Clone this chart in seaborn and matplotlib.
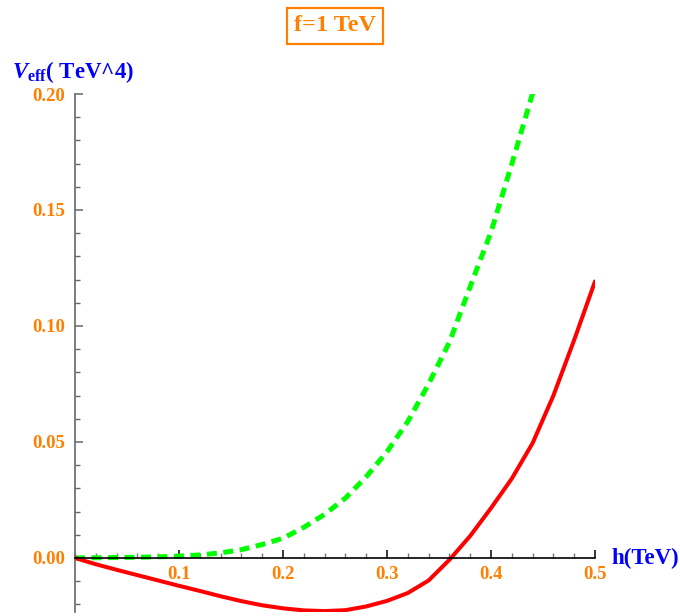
import numpy as np
import pandas as pd
import seaborn as sns
import matplotlib.pyplot as plt
from matplotlib.ticker import FixedLocator, MultipleLocator, FormatStrFormatter

# values
h_red = [0, 0.02, 0.04, 0.06, 0.08, 0.10, 0.12, 0.14, 0.16, 0.18, 0.20, 0.22,
         0.24, 0.26, 0.28, 0.30, 0.32, 0.34, 0.36, 0.38, 0.40, 0.42, 0.44,
         0.46, 0.48, 0.50]
v_red = [0, -0.0027, -0.0051, -0.0074, -0.0097, -0.0120, -0.0142, -0.0165,
         -0.0186, -0.0204, -0.0217, -0.0226, -0.0229, -0.0225, -0.0209,
         -0.0185, -0.0151, -0.0097, -0.0008, 0.0095, 0.0215, 0.0342, 0.0495,
         0.0700, 0.0940, 0.1192]

h_green = [0, 0.02, 0.04, 0.06, 0.08, 0.10, 0.12, 0.14, 0.16, 0.18, 0.20,
           0.22, 0.24, 0.26, 0.28, 0.30, 0.32, 0.34, 0.36, 0.38, 0.40, 0.42,
           0.44]
v_green = [0, 0.0001, 0.0002, 0.0003, 0.0005, 0.0008, 0.0013, 0.0022, 0.0036,
           0.0058, 0.0085, 0.0132, 0.0188, 0.0258, 0.0350, 0.0458, 0.0588,
           0.0750, 0.0930, 0.1170, 0.1405, 0.1698, 0.2003]

x_ticks = [0.1, 0.2, 0.3, 0.4, 0.5]
y_ticks = [0.0, 0.05, 0.10, 0.15, 0.20]

orange = "#FF8000"
blue = "#0000FF"

sns.set_style("white")
plt.rcParams["font.family"] = ["Liberation Serif", "DejaVu Serif"]
plt.rcParams["mathtext.fontset"] = "custom"
plt.rcParams["mathtext.it"] = "Liberation Serif:italic:bold"
plt.rcParams["mathtext.bf"] = "Liberation Serif:bold"
plt.rcParams["mathtext.rm"] = "Liberation Serif:bold"

fig = plt.figure(figsize=(6.8, 6.16), dpi=100)
ax = fig.add_axes([0.1103, 0.0057, 0.7647, 0.8417])

df_red = pd.DataFrame({"h": h_red, "V": v_red})
df_green = pd.DataFrame({"h": h_green, "V": v_green})

sns.lineplot(data=df_green, x="h", y="V", ax=ax, color="#00FF00", lw=3.6,
             ls=(0, (2.0, 1.3)))
sns.lineplot(data=df_red, x="h", y="V", ax=ax, color="#FF0000", lw=2.9)

ax.set_xlim(0, 0.5)
ax.set_ylim(-0.0235, 0.2)

# axes crossing at the origin
ax.spines["top"].set_visible(False)
ax.spines["right"].set_visible(False)
ax.spines["left"].set_position(("data", 0))
ax.spines["bottom"].set_position(("data", 0))
ax.spines["left"].set_color("#666666")
ax.spines["bottom"].set_color("black")
ax.spines["left"].set_linewidth(1.2)
ax.spines["bottom"].set_linewidth(1.2)

ax.xaxis.set_major_locator(FixedLocator(x_ticks))
ax.xaxis.set_minor_locator(MultipleLocator(0.02))
ax.yaxis.set_major_locator(FixedLocator(y_ticks))
ax.yaxis.set_minor_locator(MultipleLocator(0.01))
ax.xaxis.set_major_formatter(FormatStrFormatter("%.1f"))
ax.yaxis.set_major_formatter(FormatStrFormatter("%.2f"))

ax.tick_params(bottom=True, left=True, which="both")
ax.tick_params(axis="x", which="major", direction="in", length=6, width=1.1,
               color="black", labelcolor=orange, labelsize=13.5, pad=6)
ax.tick_params(axis="x", which="minor", direction="in", length=3.5, width=1,
               color="#777777")
ax.tick_params(axis="y", which="major", direction="in", length=6, width=1.1,
               color="#666666", labelcolor=orange, labelsize=13.5, pad=7)
ax.tick_params(axis="y", which="minor", direction="in", length=3.5, width=1,
               color="#666666")
for lab in ax.get_xticklabels() + ax.get_yticklabels():
    lab.set_fontweight("bold")

ax.set_xlabel("")
ax.set_ylabel("")

# axis titles
ax.text(0.5163, 0, "h(TeV)", color=blue, fontsize=16.5, fontweight="bold",
        ha="left", va="center", clip_on=False)
fig.text(0.0176, 0.873, r"$V_{\mathbf{eff}}$( TeV^4)", color=blue,
         fontsize=16.5, fontweight="bold", ha="left", va="baseline")

# boxed title
fig.text(0.4926, 0.958, "f=1 TeV", color=orange, fontsize=17.5,
         fontweight="bold", ha="center", va="center",
         bbox=dict(boxstyle="square,pad=0.3", fc="white", ec=orange, lw=1.6))

plt.savefig("out.png", dpi=100)
plt.close()
